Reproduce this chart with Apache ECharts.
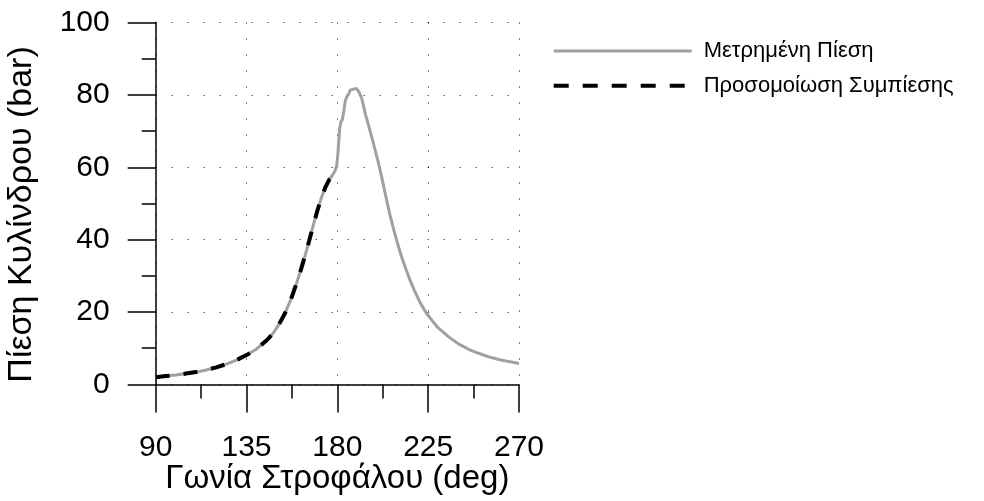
<!DOCTYPE html>
<html>
<head>
<meta charset="utf-8">
<script src="https://cdn.jsdelivr.net/npm/echarts@6/dist/echarts.min.js"></script>
<style>
html,body{margin:0;padding:0;background:#fff;}
#chart{width:984px;height:501px;}
</style>
</head>
<body>
<div id="chart"></div>
<script>
// Measured pressure (gray solid)
const measuredAngle = [90,95,100,105,110,115,120,125,130,135,140,145,148,151,154,157,160,162,164,166,168,170,172,174,176,178,179,179.7,180.3,180.8,181.2,181.8,182.5,183.2,184,184.8,185.6,186.3,187,189.4,190.5,192,194,196,198,200,202,204,206,208,210,212,214,216,218,221,224,227,230,235,240,245,250,255,260,265,270];
const measuredPressure = [2.1,2.3,2.6,3.0,3.4,4.0,4.7,5.6,6.7,8.1,9.8,12.2,14.0,16.5,19.6,23.5,28.3,31.8,35.6,39.6,43.8,47.8,51.4,54.4,56.6,58.2,59.2,60.5,64,68,71,72.6,73.2,75.5,78.5,79.6,80.2,81.3,81.8,81.8,81,79.2,74.5,70.5,66.3,62,57.2,52,47,42.6,38.6,35,31.8,28.8,26.2,22.6,19.8,17.6,15.6,13.2,11.2,9.7,8.6,7.6,6.9,6.3,5.8];
// Compression simulation (black dashed)
const simAngle = [90,95,100,105,110,115,120,125,130,135,140,145,148,151,154,157,160,162,164,166,168,170,172,174,176,178.3];
const simPressure = [2.0,2.3,2.6,3.0,3.4,4.0,4.7,5.6,6.7,8.1,9.8,12.2,14.0,16.5,19.6,23.5,28.3,31.8,35.6,39.6,43.8,47.8,51.4,54.4,56.6,58.0];
const xTicks = [90,135,180,225,270];
const yTicks = [0,20,40,60,80,100];
const seriesNames = ['Μετρημένη Πίεση','Προσομοίωση Συμπίεσης'];
const xTitle = 'Γωνία Στροφάλου (deg)';
const yTitle = 'Πίεση Κυλίνδρου (bar)';

const font = 'Liberation Sans, Arial, sans-serif';
const pair = (a,b) => a.map((v,i)=>[v,b[i]]);
const chart = echarts.init(document.getElementById('chart'), null, {renderer:'canvas'});
const dotted = {show:true, lineStyle:{color:'#000', width:1, type:[1,15]}};
chart.setOption({
  animation:false,
  backgroundColor:'#fff',
  grid:{left:155.7, right:465, top:22.5, bottom:116.6, containLabel:false, outerBoundsMode:'none'},
  legend:{
    orient:'vertical', left:551.7, top:39, padding:0, itemWidth:138, itemHeight:24, itemGap:10.7,
    itemStyle:{opacity:0},
    textStyle:{fontFamily:font, fontSize:22, lineHeight:24, color:'#000', padding:[0,0,0,7]},
    data:[
      {name:seriesNames[0], lineStyle:{color:'#a0a0a0', width:3, type:'solid'}},
      {name:seriesNames[1], lineStyle:{color:'#000', width:4, type:[15,14]}}
    ]
  },
  xAxis:{
    type:'value', min:xTicks[0], max:xTicks[xTicks.length-1], interval:45,
    name:xTitle, nameLocation:'middle', nameGap:78, nameMoveOverlap:false,
    nameTextStyle:{fontFamily:font, fontSize:33, color:'#000'},
    axisLine:{show:true, onZero:false, lineStyle:{color:'#000', width:1.5}},
    axisTick:{show:true, inside:false, length:28, lineStyle:{color:'#000', width:1.5}},
    minorTick:{show:true, splitNumber:2, length:14, lineStyle:{color:'#000', width:1.5}},
    axisLabel:{fontFamily:font, fontSize:30, color:'#000', margin:48},
    splitLine:dotted
  },
  yAxis:{
    type:'value', min:yTicks[0], max:yTicks[yTicks.length-1], interval:20,
    name:yTitle, nameLocation:'middle', nameGap:117, nameRotate:90, nameMoveOverlap:false,
    nameTextStyle:{fontFamily:font, fontSize:34, color:'#000', padding:[0,22,0,0]},
    axisLine:{show:true, onZero:false, lineStyle:{color:'#000', width:1.5}},
    axisTick:{show:true, inside:false, length:28, lineStyle:{color:'#000', width:1.5}},
    minorTick:{show:true, splitNumber:2, length:14, lineStyle:{color:'#000', width:1.5}},
    axisLabel:{fontFamily:font, fontSize:30, color:'#000', margin:46},
    splitLine:dotted
  },
  series:[
    {name:seriesNames[0], type:'line', data:pair(measuredAngle, measuredPressure), showSymbol:false, symbol:'none',
     lineStyle:{color:'#a0a0a0', width:3}, itemStyle:{color:'#a0a0a0'}, z:2},
    {name:seriesNames[1], type:'line', data:pair(simAngle, simPressure), showSymbol:false, symbol:'none',
     lineStyle:{color:'#000', width:4, type:[14,14]}, itemStyle:{color:'#000'}, z:3}
  ]
});
</script>
</body>
</html>
